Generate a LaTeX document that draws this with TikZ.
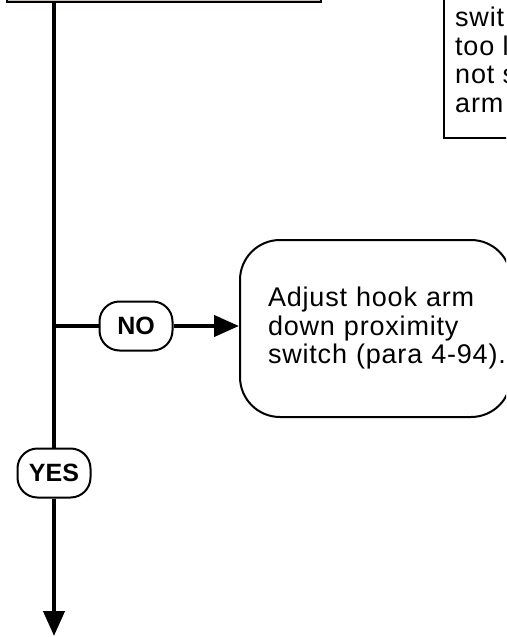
\documentclass[tikz,border=0pt]{standalone}
\usepackage{fontspec}
\setmainfont{Liberation Sans}
\newfontfamily\bodyfont{Liberation Sans}[LetterSpace=3]
\usetikzlibrary{arrows.meta}
\definecolor{hdrfill}{RGB}{200,194,188}
\begin{document}
\begin{tikzpicture}[x=1pt,y=-1pt,
  flow/.style={line width=4.2pt},
  arr/.style={flow,-{Triangle[length=25pt,width=21pt]}},
  box/.style={draw,line width=2pt},
  pill/.style={draw,line width=2pt,rounded corners=20pt,minimum width=73pt,minimum height=49pt,inner sep=0pt,fill=white,font=\fontsize{25}{25}\selectfont\bfseries},
  txt/.style={font=\bodyfont\fontsize{27}{28.5}\selectfont}]
\useasboundingbox (0,0) rectangle (506,637);
\clip (0,0) rectangle (506,637);
% partial boxes at the top
\node[box, fill=hdrfill, anchor=south west, minimum width=314pt, minimum height=30pt] (top) at (6,3) {};
\node[box, fill=white, anchor=south west, minimum width=80pt, minimum height=170pt] (rbox) at (443,139) {};
\node[txt, anchor=base west, inner sep=0pt] (rtext) at (455,27) {\vtop{\hbox{swit}\hbox{too l}\hbox{not s}\hbox{arm}}};
% decision labels and action box
\node[pill] (yes) at (54,473) {YES};
\node[pill] (no) at (136,326) {NO};
\node[box, txt, rounded corners=40pt, anchor=west, minimum height=177pt, text width=215pt, inner xsep=28pt, align=left] (adjust) at (239,328.5) {Adjust hook arm\\down proximity\\\mbox{switch (para 4-94).}};
% connectors
\coordinate (t) at (54,3);
\coordinate (j) at (54,326);
\coordinate (e) at (54,636);
\draw[flow] (t) -- (yes);
\draw[arr] (yes) -- (e);
\draw[flow] (j) -- (no);
\draw[arr] (no.east) -- (no.east -| adjust.west);
\end{tikzpicture}
\end{document}
